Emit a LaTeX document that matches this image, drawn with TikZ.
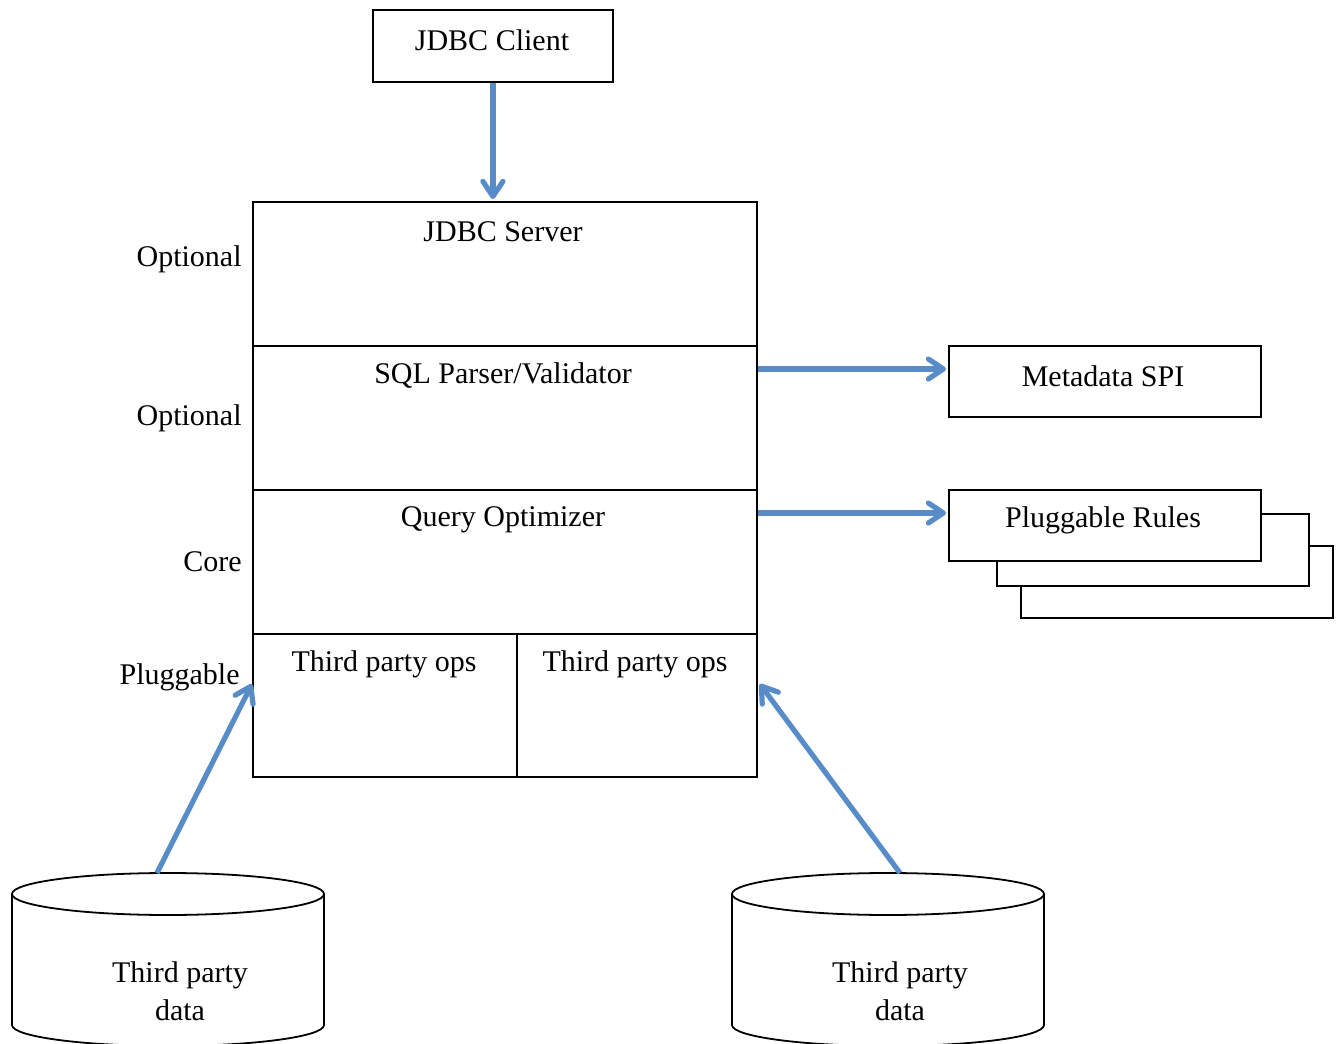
\documentclass[tikz,border=0pt]{standalone}
\usepackage{fontspec}
\setmainfont{Liberation Serif}
\usepackage{tikz}
\usetikzlibrary{arrows.meta,positioning}
\definecolor{flowblue}{RGB}{88,140,200}

\begin{document}
\begin{tikzpicture}[x=0.5pt, y=-0.5pt,
  box/.style={draw, line width=0.9pt, rectangle, inner sep=0pt, anchor=north west},
  txt/.style={font=\fontsize{15}{18}\selectfont, inner sep=0pt},
  flow/.style={draw=flowblue, line width=2.6pt,
    -{Straight Barb[length=7.5pt, width=10pt, line width=2.6pt, round]}}]

\useasboundingbox (0,0) rectangle (1341,1044);

% client on top
\node[box, minimum width=120pt, minimum height=36pt] (client) at (372,9) {};
\path (492,40) node[txt] (clienttxt) {JDBC Client};

% the layered stack
\node[box, minimum width=252pt, minimum height=72pt] (server) at (252,201) {};
\node[box, minimum width=252pt, minimum height=72pt] (parser) at (252,345) {};
\node[box, minimum width=252pt, minimum height=72pt] (optimizer) at (252,489) {};
\node[box, minimum width=132pt, minimum height=71.5pt] (opsleft) at (252,633) {};
\node[box, minimum width=120pt, minimum height=71.5pt] (opsright) at (516,633) {};

\path
(503,232) node[txt] (servertxt) {JDBC Server}
(503,376) node[txt] (parsertxt) {SQL Parser/Validator}
(503,520) node[txt] (optimizertxt) {Query Optimizer}
(384,664) node[txt] (opslefttxt) {Third party ops}
(635,664) node[txt] (opsrighttxt) {Third party ops};

% labels on the left
\path
(242,259) node[txt, anchor=east] (opt1) {Optional}
(242,418) node[txt, anchor=east] (opt2) {Optional}
(242,562) node[txt, anchor=east] (core) {Core}
(240,677) node[txt, anchor=east] (plug) {Pluggable};

% boxes on the right
\node[box, minimum width=156pt, minimum height=35.5pt] (meta) at (948,345) {};
\path (1103,376) node[txt] (metatxt) {Metadata SPI};

\foreach \x/\y in {1020/545, 996/513}
  \node[box, fill=white, minimum width=156pt, minimum height=36pt] at (\x,\y) {};
\node[box, fill=white, minimum width=156pt, minimum height=35.5pt] (rules) at (948,489) {};
\path (1103,520) node[txt] (rulestxt) {Pluggable Rules};

% the two data stores
\foreach \cx/\nm in {168/leftdb, 888/rightdb}
  {
   \draw[line width=0.9pt, fill=white]
     (\cx-156,894) -- (\cx-156,1025)
     arc[start angle=180, end angle=360, x radius=78pt, y radius=10.5pt]
     -- (\cx+156,894);
   \draw[line width=0.9pt] (\cx,894) ellipse [x radius=78pt, y radius=10.5pt];
  }
\path
(180,975) node[txt] (lefttxt) {Third party}
(180,1010) node[txt] (leftdata) {data}
(900,975) node[txt] (righttxt) {Third party}
(900,1010) node[txt] (rightdata) {data};
\coordinate (lefttop) at (157,873);
\coordinate (righttop) at (900,873);

% arrows
\draw[flow] (client.south) -- ([yshift=1pt]client.south |- server.north);
\draw[flow] ([yshift=-12pt]parser.north east) -- ([yshift=-12pt,xshift=-1pt]meta.north west);
\draw[flow] ([yshift=-12pt]optimizer.north east) -- ([yshift=-12pt,xshift=-1pt]rules.north west);
\draw[flow] (lefttop) -- ([yshift=-25.5pt]opsleft.north west);
\draw[flow] (righttop) -- ([xshift=1pt,yshift=-25.5pt]opsright.north east);

\end{tikzpicture}
\end{document}
